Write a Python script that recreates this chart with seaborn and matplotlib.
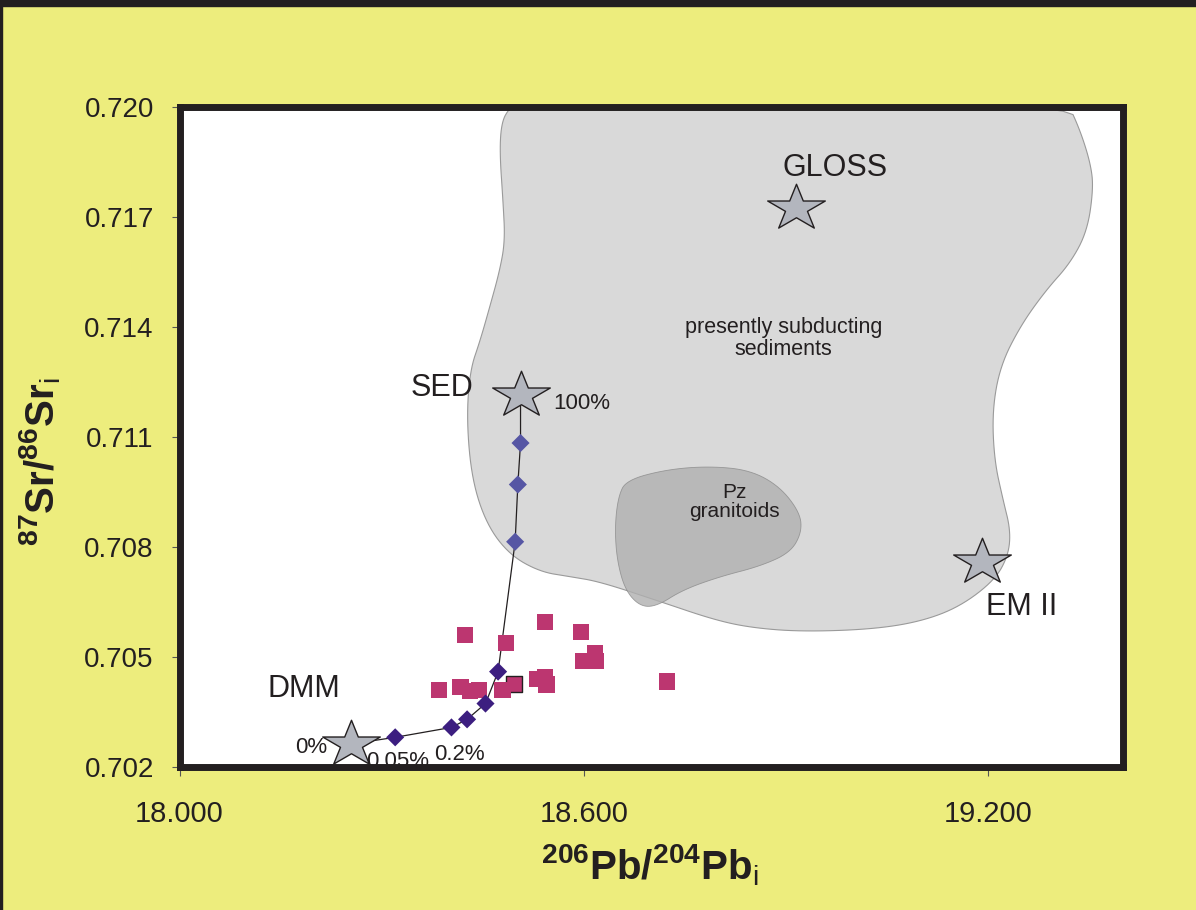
import numpy as np
import pandas as pd
import matplotlib
matplotlib.use("Agg")
import matplotlib.pyplot as plt
from matplotlib.path import Path
from matplotlib.patches import Polygon, Rectangle
import seaborn as sns

# ---------------- data ----------------
# end-member stars
star_names = ["DMM", "SED", "GLOSS", "EM II"]
star_x = [18.255, 18.506, 18.914, 19.191]
star_y = [0.70263, 0.71215, 0.71724, 0.70758]

# mixing curve DMM -> SED (lower part dark diamonds, upper part light diamonds)
mix_low_x = [18.320, 18.4035, 18.4267, 18.454, 18.4727]
mix_low_y = [0.70281, 0.70308, 0.70330, 0.70373, 0.70460]
mix_up_x = [18.498, 18.502, 18.506]
mix_up_y = [0.70814, 0.70970, 0.71083]

# samples (pink squares)
samp_x = [18.4233, 18.4842, 18.5421, 18.5951, 18.6159, 18.5981, 18.6178,
          18.3847, 18.4169, 18.4307, 18.4445, 18.4793, 18.5307, 18.5421,
          18.5446, 18.7229]
samp_y = [0.70560, 0.70538, 0.70596, 0.70568, 0.70511, 0.70490, 0.70490,
          0.70411, 0.70419, 0.70407, 0.70410, 0.70411, 0.70441, 0.70444,
          0.70425, 0.70433]
outl_x = [18.4965]
outl_y = [0.70425]

# fields (outline vertices)
sed_field_x = [18.520, 19.317, 19.337, 19.352, 19.356, 19.347, 19.322, 19.285,
               19.248, 19.218, 19.206, 19.209, 19.222, 19.233, 19.230, 19.210,
               19.158, 19.099, 19.025, 18.921, 18.847, 18.792, 18.713, 18.624,
               18.579, 18.535, 18.490, 18.456, 18.434, 18.426, 18.431, 18.446,
               18.460, 18.475, 18.483, 18.480, 18.475, 18.478, 18.490, 18.505]
sed_field_y = [0.72014, 0.72014, 0.71932, 0.71843, 0.71777, 0.71661, 0.71574,
               0.71498, 0.71403, 0.71294, 0.71172, 0.71036, 0.70928, 0.70846,
               0.70778, 0.70710, 0.70637, 0.70596, 0.70575, 0.70569, 0.70580,
               0.70602, 0.70651, 0.70705, 0.70719, 0.70732, 0.70778, 0.70860,
               0.70982, 0.71145, 0.71281, 0.71362, 0.71452, 0.71552, 0.71634,
               0.71742, 0.71878, 0.71959, 0.71997, 0.72014]
gran_x = [18.663, 18.723, 18.787, 18.847, 18.891, 18.921, 18.923, 18.906,
          18.861, 18.802, 18.747, 18.708, 18.683, 18.661, 18.649, 18.646, 18.651]
gran_y = [0.70982, 0.71011, 0.71020, 0.71009, 0.70964, 0.70892, 0.70838,
          0.70784, 0.70747, 0.70719, 0.70683, 0.70638, 0.70638, 0.70683,
          0.70765, 0.70855, 0.70937]

x_ticks = [18.0, 18.6, 19.2]
y_ticks = [0.702, 0.705, 0.708, 0.711, 0.714, 0.717, 0.720]

# ---------------- style ----------------
YELLOW = "#EDED7D"
INK = "#231F20"
sns.set_theme(style="white")
plt.rcParams["font.family"] = ["Liberation Sans", "DejaVu Sans"]
plt.rcParams["mathtext.fontset"] = "custom"
plt.rcParams["mathtext.rm"] = "Liberation Sans"
plt.rcParams["mathtext.bf"] = "Liberation Sans:bold"
plt.rcParams["text.color"] = INK


def rounded_outline(xs, ys, iters=3):
    """Chaikin corner cutting so the field outline looks hand-drawn smooth."""
    p = np.column_stack([xs, ys])
    for _ in range(iters):
        q = np.roll(p, -1, axis=0)
        p = np.vstack([np.column_stack([0.75 * p + 0.25 * q]).reshape(-1, 2),
                       (0.25 * p + 0.75 * q)]).reshape(2, -1, 2).transpose(1, 0, 2).reshape(-1, 2)
    return p


fig = plt.figure(figsize=(11.96, 9.10), dpi=100)
fig.patch.set_facecolor(YELLOW)
ax = fig.add_axes([0.1501, 0.1571, 0.7889, 0.7258])
ax.set_facecolor("white")

# frame decorations of the figure
fig.add_artist(Rectangle((0, 1 - 6 / 910), 1, 6 / 910, transform=fig.transFigure,
                         color=INK, zorder=0))
fig.add_artist(Rectangle((0, 0), 2 / 1196, 1, transform=fig.transFigure,
                         color=INK, zorder=0))

# fields
ax.add_patch(Polygon(rounded_outline(sed_field_x, sed_field_y), closed=True,
                     facecolor="#D9D9D9", edgecolor="#9A9A9A", lw=0.8, zorder=1))
ax.add_patch(Polygon(rounded_outline(gran_x, gran_y), closed=True,
                     facecolor="#B0B0B0", edgecolor="#8A8A8A", lw=0.6,
                     alpha=0.8, zorder=1.2))

# mixing line
line_df = pd.DataFrame({
    "x": [star_x[0]] + mix_low_x + mix_up_x + [star_x[1]],
    "y": [star_y[0]] + mix_low_y + mix_up_y + [star_y[1]],
})
sns.lineplot(data=line_df, x="x", y="y", sort=False, estimator=None,
             color=INK, lw=0.9, ax=ax, zorder=2)

# samples
sns.scatterplot(x=samp_x, y=samp_y, marker="s", s=135, color="#BC3670",
                edgecolor="none", linewidth=0, ax=ax, zorder=3)
sns.scatterplot(x=outl_x, y=outl_y, marker="s", s=135, color="#BC3670",
                edgecolor=INK, linewidth=1.0, ax=ax, zorder=2.9)

# mixing diamonds
sns.scatterplot(x=mix_low_x, y=mix_low_y, marker="D", s=85, color="#3C1E80",
                edgecolor="none", linewidth=0, ax=ax, zorder=3.5)
sns.scatterplot(x=mix_up_x, y=mix_up_y, marker="D", s=85, color="#5656A4",
                edgecolor="none", linewidth=0, ax=ax, zorder=3.5)

# stars (slightly flattened five-point star)
ang = np.deg2rad(90 + 36 * np.arange(10))
rad = np.where(np.arange(10) % 2 == 0, 1.0, 0.381966)
sv = np.column_stack([rad * np.cos(ang), 0.8 * rad * np.sin(ang)])
sv = np.vstack([sv, sv[:1]])
star_path = Path(sv, [Path.MOVETO] + [Path.LINETO] * 9 + [Path.CLOSEPOLY])
sns.scatterplot(x=star_x, y=star_y, marker=star_path, s=1720, color="#B3B6BE",
                edgecolor=INK, linewidth=1.0, ax=ax, zorder=4)

# labels
tk = dict(color=INK, zorder=5)
ax.text(18.973, 0.71832, "GLOSS", fontsize=22, ha="center", va="center", **tk)
ax.text(18.896, 0.71367, "presently subducting\nsediments", fontsize=15.5,
        ha="center", va="center", linespacing=1.05, **tk)
ax.text(18.389, 0.71232, "SED", fontsize=22, ha="center", va="center", **tk)
ax.text(18.554, 0.71191, "100%", fontsize=16, ha="left", va="center", **tk)
ax.text(18.823, 0.70922, "Pz\ngranitoids", fontsize=15, ha="center",
        va="center", linespacing=1.05, **tk)
ax.text(19.249, 0.70637, "EM II", fontsize=22, ha="center", va="center", **tk)
ax.text(18.184, 0.70412, "DMM", fontsize=22, ha="center", va="center", **tk)
ax.text(18.195, 0.70252, "0%", fontsize=16, ha="center", va="center", **tk)
ax.text(18.324, 0.70216, "0.05%", fontsize=16, ha="center", va="center",
        color=INK, zorder=2.5)
ax.text(18.416, 0.70234, "0.2%", fontsize=16, ha="center", va="center", **tk)

# axes
ax.set_xlim(18.0, 19.4)
ax.set_ylim(0.702, 0.720)
ax.set_xticks(x_ticks)
ax.set_yticks(y_ticks)
ax.set_xticklabels([f"{v:.3f}" for v in x_ticks], fontsize=21, color=INK)
ax.set_yticklabels([f"{v:.3f}" for v in y_ticks], fontsize=20, color=INK)
ax.tick_params(axis="x", direction="out", length=6.5, width=0.8, pad=17,
               color="#555555", bottom=True)
ax.tick_params(axis="y", direction="out", length=5.5, width=0.8, pad=13,
               color="#555555", left=True)
for sp in ax.spines.values():
    sp.set_visible(True)
    sp.set_linewidth(5)
    sp.set_color(INK)
    sp.set_zorder(6)

ax.set_xlabel(r"$\mathbf{^{206}Pb/^{204}Pb}_{\mathrm{i}}$", fontsize=29,
              color=INK, ha="center", va="center")
ax.set_ylabel(r"$\mathbf{^{87}Sr/^{86}Sr}_{\mathrm{i}}$", fontsize=29,
              color=INK, ha="center", va="center")
ax.xaxis.set_label_coords(0.499, -0.148)
ax.yaxis.set_label_coords(-0.148, 0.462)

fig.savefig("out.png", dpi=100, facecolor=YELLOW)
